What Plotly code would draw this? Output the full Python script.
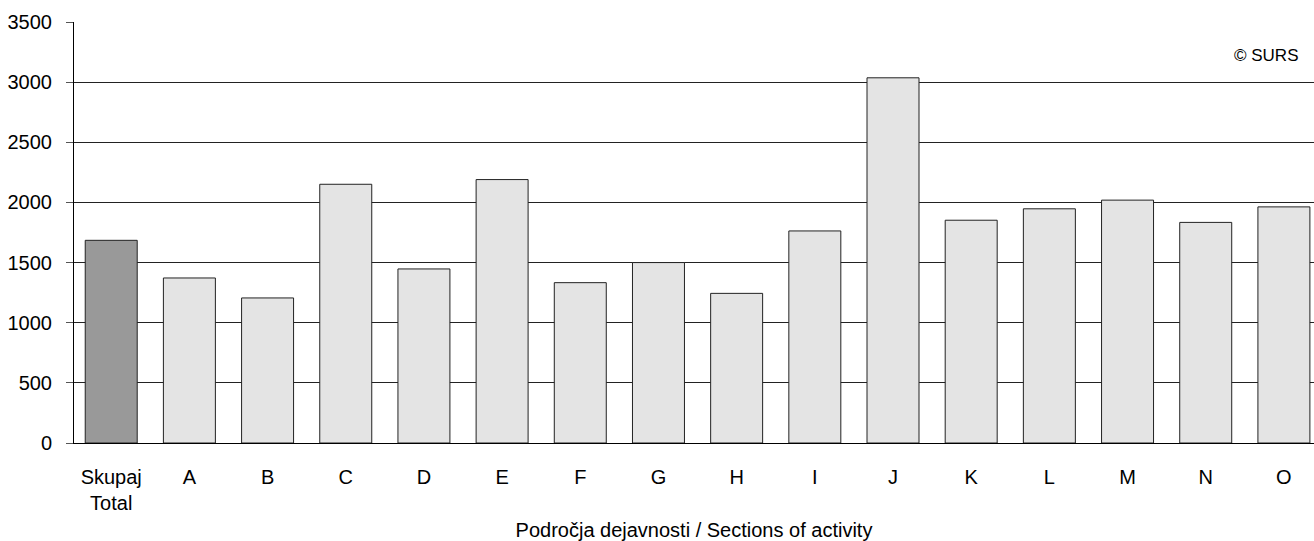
import plotly.graph_objects as go

categories = ["Skupaj<br>Total", "A", "B", "C", "D", "E", "F", "G", "H", "I", "J", "K", "L", "M", "N", "O"]
values = [1685, 1372, 1206, 2151, 1447, 2190, 1333, 1500, 1244, 1763, 3036, 1852, 1947, 2019, 1834, 1963]
bar_colors = ["#999999"] + ["#e4e4e4"] * 15
y_ticks = [0, 500, 1000, 1500, 2000, 2500, 3000, 3500]

font_family = "Liberation Sans, Arial, sans-serif"

fig = go.Figure()
fig.add_trace(go.Bar(
    x=categories,
    y=values,
    marker=dict(color=bar_colors, line=dict(color="#222222", width=1)),
    hoverinfo="x+y",
))

fig.update_layout(
    width=1314,
    height=541,
    margin=dict(l=74, r=0, t=22, b=98),
    paper_bgcolor="white",
    plot_bgcolor="white",
    bargap=0.335,
    showlegend=False,
    font=dict(family=font_family, size=20, color="black"),
    xaxis=dict(
        title=dict(text="Področja dejavnosti / Sections of activity", font=dict(size=20), standoff=12),
        range=[-0.476, 15.385],
        showline=True, linecolor="black", linewidth=1,
        showgrid=False, ticks="", tickfont=dict(size=20),
        ticklabelstandoff=16,
    ),
    yaxis=dict(
        range=[0, 3500],
        tickvals=y_ticks,
        showline=True, linecolor="black", linewidth=1,
        showgrid=True, gridcolor="#222222", gridwidth=1,
        ticks="outside", ticklen=7, tickcolor="#555555",
        tickfont=dict(size=20),
        ticklabelstandoff=10,
        zeroline=False,
    ),
    annotations=[dict(
        text="© SURS", xref="paper", yref="paper", x=0.9887, y=0.92,
        xanchor="right", yanchor="middle", showarrow=False,
        font=dict(size=17, color="black"),
    )],
)

fig.write_html(
    "out.html",
    config={"displayModeBar": False},
    post_script="document.body.style.margin='0px';document.body.style.padding='0px';",
)
